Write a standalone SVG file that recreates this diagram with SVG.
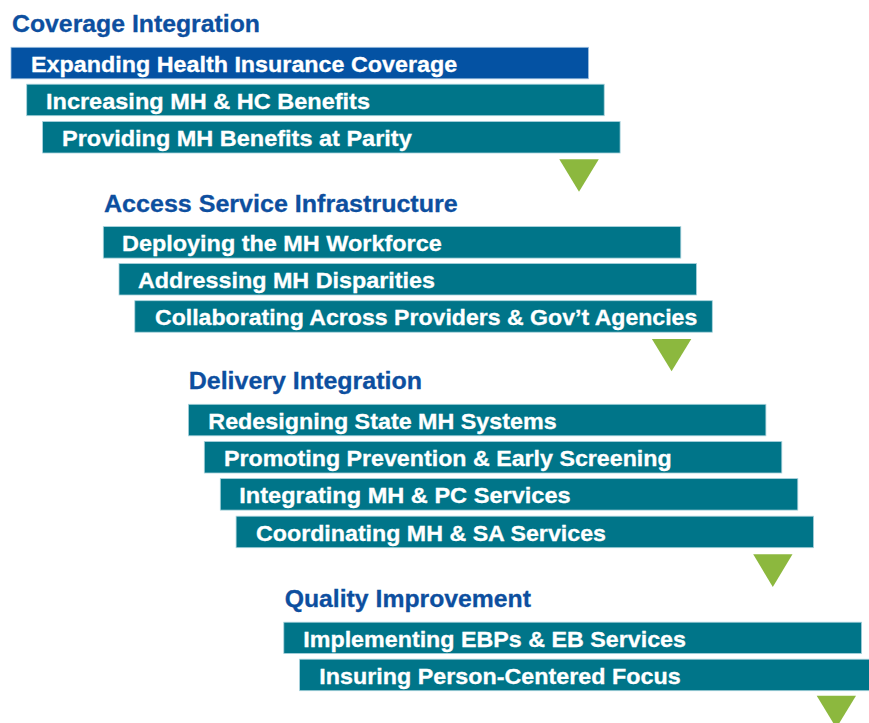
<svg xmlns="http://www.w3.org/2000/svg" width="869" height="723" viewBox="0 0 869 723">
  <style>
    .title { font-family: "Liberation Sans", Arial, sans-serif; font-weight: bold; font-size: 24.8px; fill: #0d4f9f; stroke: #0d4f9f; stroke-width: 0.3; }
    .bar { fill: #007589; stroke: #a9d3dc; stroke-width: 0.8; }
    .bar.lead { fill: #0452a3; stroke: #9fc0e0; }
    .label { font-family: "Liberation Sans", Arial, sans-serif; font-weight: bold; font-size: 22px; fill: #ffffff; stroke: #ffffff; stroke-width: 0.3; }
    .step { fill: #8cb83e; }
  </style>
  <rect width="869" height="723" fill="#ffffff"/>

  <!-- Stage 1 -->
  <g id="coverage-integration">
    <text class="title" x="12" y="31.5" textLength="248" lengthAdjust="spacingAndGlyphs">Coverage Integration</text>
    <g id="expanding-coverage">
      <rect class="bar lead" x="11" y="47.3" width="577.5" height="31.5"/>
      <text class="label" x="31" y="71.7" textLength="426.3" lengthAdjust="spacingAndGlyphs">Expanding Health Insurance Coverage</text>
    </g>
    <g id="increasing-benefits">
      <rect class="bar" x="26.7" y="84.2" width="577.5" height="31.5"/>
      <text class="label" x="46" y="108.5" textLength="324" lengthAdjust="spacingAndGlyphs">Increasing MH &amp; HC Benefits</text>
    </g>
    <g id="parity-benefits">
      <rect class="bar" x="42.6" y="121.5" width="577.5" height="31.5"/>
      <text class="label" x="62" y="145.7" textLength="349.7" lengthAdjust="spacingAndGlyphs">Providing MH Benefits at Parity</text>
    </g>
  </g>

  <!-- Stage 2 -->
  <g id="access-infrastructure">
    <text class="title" x="104" y="211.5" textLength="353.7" lengthAdjust="spacingAndGlyphs">Access Service Infrastructure</text>
    <g id="workforce">
      <rect class="bar" x="103.3" y="226.6" width="577.5" height="31.5"/>
      <text class="label" x="122" y="251" textLength="319.7" lengthAdjust="spacingAndGlyphs">Deploying the MH Workforce</text>
    </g>
    <g id="disparities">
      <rect class="bar" x="119" y="263.5" width="577.5" height="31.5"/>
      <text class="label" x="138" y="287.9" textLength="297" lengthAdjust="spacingAndGlyphs">Addressing MH Disparities</text>
    </g>
    <g id="collaborating">
      <rect class="bar" x="134.8" y="300.7" width="577.5" height="31.5"/>
      <text class="label" x="155" y="325.1" textLength="542.3" lengthAdjust="spacingAndGlyphs">Collaborating Across Providers &amp; Gov’t Agencies</text>
    </g>
  </g>

  <!-- Stage 3 -->
  <g id="delivery-integration">
    <text class="title" x="188.7" y="389" textLength="233.3" lengthAdjust="spacingAndGlyphs">Delivery Integration</text>
    <g id="state-systems">
      <rect class="bar" x="188.4" y="404.3" width="577.5" height="31.5"/>
      <text class="label" x="208.3" y="428.7" textLength="348.4" lengthAdjust="spacingAndGlyphs">Redesigning State MH Systems</text>
    </g>
    <g id="prevention">
      <rect class="bar" x="204.3" y="441.5" width="577.5" height="31.5"/>
      <text class="label" x="224" y="465.9" textLength="447.7" lengthAdjust="spacingAndGlyphs">Promoting Prevention &amp; Early Screening</text>
    </g>
    <g id="primary-care">
      <rect class="bar" x="220.3" y="478.6" width="577.5" height="31.5"/>
      <text class="label" x="239.3" y="503" textLength="331.4" lengthAdjust="spacingAndGlyphs">Integrating MH &amp; PC Services</text>
    </g>
    <g id="substance-abuse">
      <rect class="bar" x="236.1" y="516.2" width="577.5" height="31.5"/>
      <text class="label" x="256" y="540.6" textLength="350" lengthAdjust="spacingAndGlyphs">Coordinating MH &amp; SA Services</text>
    </g>
  </g>

  <!-- Stage 4 -->
  <g id="quality-improvement">
    <text class="title" x="284.7" y="607.3" textLength="246.3" lengthAdjust="spacingAndGlyphs">Quality Improvement</text>
    <g id="evidence-based">
      <rect class="bar" x="283.8" y="622.2" width="577.8" height="31.3"/>
      <text class="label" x="303.3" y="646.6" textLength="382.7" lengthAdjust="spacingAndGlyphs">Implementing EBPs &amp; EB Services</text>
    </g>
    <g id="person-centered">
      <rect class="bar" x="299.6" y="659.2" width="577.5" height="31.5"/>
      <text class="label" x="319.3" y="683.6" textLength="361.4" lengthAdjust="spacingAndGlyphs">Insuring Person-Centered Focus</text>
    </g>
  </g>

  <!-- Downward step markers between stages -->
  <g id="connectors">
    <polygon class="step" points="559.3,159.3 598.8,159.3 579,191.7"/>
    <polygon class="step" points="651.9,339 691.3,339 671.6,371.3"/>
    <polygon class="step" points="753.2,554.3 792.5,554.3 772.8,587"/>
    <polygon class="step" points="816.7,695.7 856,695.7 836.3,728"/>
  </g>
</svg>
